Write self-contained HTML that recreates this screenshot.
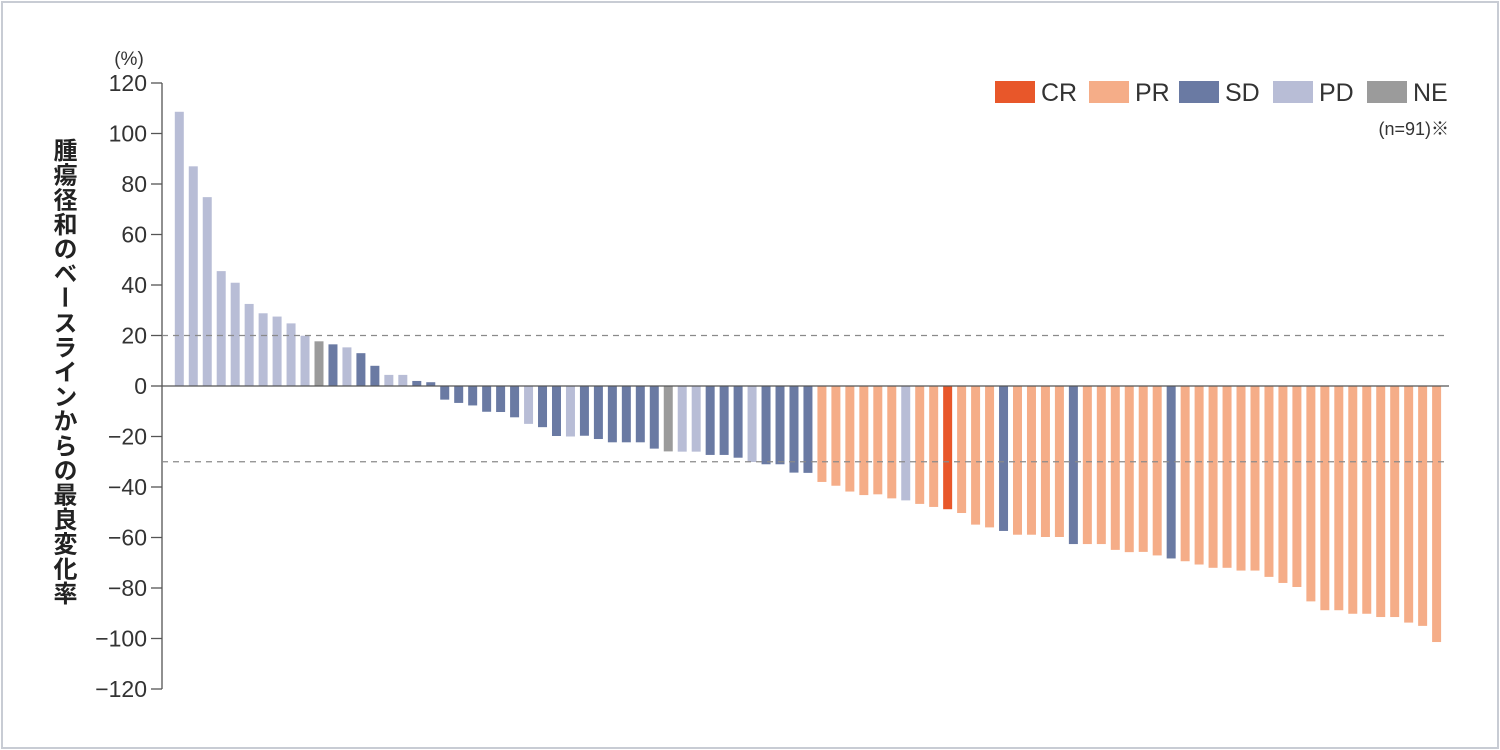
<!DOCTYPE html>
<html><head><meta charset="utf-8">
<style>
html,body{margin:0;padding:0;background:#fff;}
body{width:1500px;height:750px;position:relative;overflow:hidden;font-family:"Liberation Sans","Noto Sans CJK JP",sans-serif;}
#frame{position:absolute;left:1px;top:1px;width:1494px;height:744px;border:2px solid #c8ccd4;}
#ytitle{position:absolute;left:47px;top:138px;writing-mode:vertical-rl;font-size:24px;font-weight:bold;color:#222;letter-spacing:0.6px;line-height:30px;}
svg{position:absolute;left:0;top:0;}
</style></head><body>
<div id="frame"></div>
<div id="ytitle">腫瘍径和のベースラインからの最良変化率</div>
<svg id="chart" width="1500" height="750"></svg>
<script>
const values = [108.6,87,74.8,45.5,40.9,32.5,28.8,27.5,24.8,19.9,17.7,16.5,15.3,13,8,4.4,4.4,2,1.5,
-5.4,-6.7,-7.7,-10.2,-10.3,-12.4,-15,-16.3,-19.8,-20,-19.7,-21,-22.3,-22.3,-22.3,-24.8,-25.9,-26,-26,-27.3,-27.3,-28.4,-30.1,-31,-31,-34.3,-34.4,
-38,-39.5,-41.8,-43.2,-42.9,-44.5,-45.3,-46.7,-47.9,-48.8,-50.3,-54.9,-56,-57.4,-58.9,-58.9,-59.8,-59.8,-62.6,-62.6,-62.6,-64.9,-65.8,
-65.7,-67.1,-68.3,-69.4,-70.7,-72,-72,-73.1,-73.1,-75.6,-78,-79.6,-85.3,-88.8,-88.8,-90.2,-90.2,-91.5,-91.5,-93.7,-95,-101.4];
const responses = ["PD","PD","PD","PD","PD","PD","PD","PD","PD","PD","NE","SD","PD","SD","SD","PD","PD","SD","SD",
"SD","SD","SD","SD","SD","SD","PD","SD","SD","PD","SD","SD","SD","SD","SD","SD","NE","PD","PD","SD","SD","SD","PD","SD","SD","SD","SD",
"PR","PR","PR","PR","PR","PR","PD","PR","PR","CR","PR","PR","PR","SD","PR","PR","PR","PR","SD","PR","PR","PR","PR",
"PR","PR","SD","PR","PR","PR","PR","PR","PR","PR","PR","PR","PR","PR","PR","PR","PR","PR","PR","PR","PR","PR"];
const yTicks = [120,100,80,60,40,20,0,-20,-40,-60,-80,-100,-120];
const refLines = [20,-30];
const legendKeys = ["CR","PR","SD","PD","NE"];
const colors = {CR:"#e8572a",PR:"#f5ad88",SD:"#6a7aa3",PD:"#b8bdd6",NE:"#9b9b9b"};

const svg = document.getElementById('chart');
const NS = "http://www.w3.org/2000/svg";
const y0 = 386, pxPerUnit = 303/120;
const y = v => y0 - v*pxPerUnit;
const x0 = 179.3, step = 13.97, bw = 9;
const x = i => x0 + i*step;
function mk(tag, attrs){const e=document.createElementNS(NS,tag);for(const k in attrs)e.setAttribute(k,attrs[k]);svg.appendChild(e);return e;}

const ax = mk('line',{x1:162,y1:y(120),x2:162,y2:y(-120),stroke:'#555','stroke-width':1.3});


yTicks.forEach(t=>{
  const tk = mk('line',{x1:151,y1:y(t),x2:162,y2:y(t),stroke:'#555','stroke-width':1.3});
  
  
  const lb = mk('text',{x:147,y:y(t)+8,'text-anchor':'end','font-size':23,fill:'#333'});
  lb.textContent = t<0 ? '\u2212'+Math.abs(t) : String(t);
  
  
});
const unit = mk('text',{x:129,y:65,'text-anchor':'middle','font-size':19,fill:'#333'});
unit.textContent='(%)';



values.forEach((v,i)=>{
  const top = Math.min(y(v),y0), h = Math.abs(y(v)-y0);
  const r = mk('rect',{x:x(i)-bw/2,y:top,width:bw,height:h,fill:colors[responses[i]]});
  
  
});
refLines.forEach(v=>{
  const l = mk('line',{x1:162,y1:y(v),x2:1449,y2:y(v),stroke:'#8a8a8a','stroke-width':1.3,'stroke-dasharray':'6,5'});
  
  
});
const zl = mk('line',{x1:162,y1:y0,x2:1449,y2:y0,stroke:'#555','stroke-width':1.3});



const lx = [995,1089,1179,1273,1367];
legendKeys.forEach((k,i)=>{
  const s = mk('rect',{x:lx[i],y:81,width:40,height:22,fill:colors[k]});
  
  
  const t = mk('text',{x:lx[i]+46,y:101,'font-size':25,fill:'#333'});
  t.textContent = k;
  
  
});
const n = mk('text',{x:1449,y:135,'text-anchor':'end','font-size':18,fill:'#333'});
n.textContent='(n=91)\u203B';


</script>
</body></html>
